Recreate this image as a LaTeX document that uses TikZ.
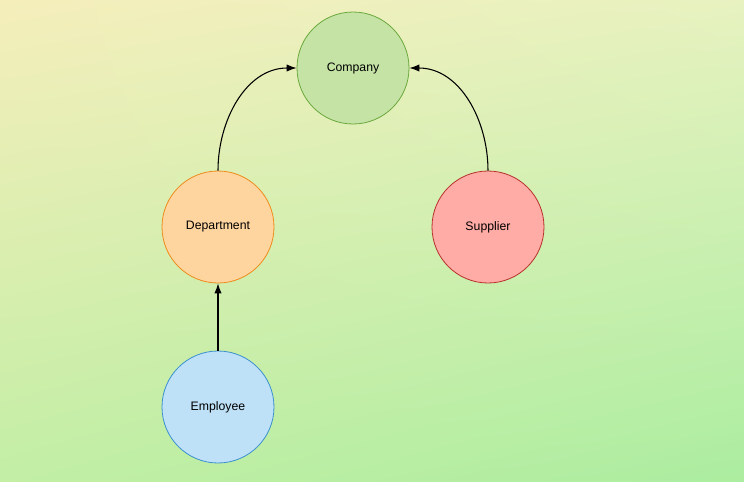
\documentclass[tikz,border=0pt]{standalone}
\usepackage{fontspec}
\setmainfont{Liberation Sans}
\usepackage{tikz}
\usetikzlibrary{arrows.meta, positioning, shadings}
\definecolor{bgtl}{HTML}{F5EEBB}
\definecolor{bgtr}{HTML}{E7F2C0}
\definecolor{bgbl}{HTML}{C2EEA5}
\definecolor{bgbr}{HTML}{ABEDA0}
\definecolor{compfill}{HTML}{C5E3A5}
\definecolor{compline}{HTML}{6BA83E}
\definecolor{deptfill}{HTML}{FFD59F}
\definecolor{deptline}{HTML}{EE8B1C}
\definecolor{suppfill}{HTML}{FFABA6}
\definecolor{suppline}{HTML}{B8322B}
\definecolor{empfill}{HTML}{BEE1F8}
\definecolor{empline}{HTML}{3C90CE}

\tikzset{
  entity/.style={circle, draw, minimum size=84pt, inner sep=0pt,
    line width=0.6pt, font=\fontsize{9.2}{11}\selectfont},
  link/.style={-{Latex[length=7.5pt, width=5.5pt]}, black, line width=0.8pt}
}

\begin{document}
\begin{tikzpicture}[x=0.75pt, y=-0.75pt]
  % background
  \shade[upper left=bgtl, upper right=bgtr, lower left=bgbl, lower right=bgbr]
    (0,0) rectangle (744,482);
  \useasboundingbox (0,0) rectangle (744,482);
  % entities
  \node[entity, fill=compfill, draw=compline] (company) at (353,68) {Company};
  \node[entity, fill=deptfill, draw=deptline] (dept) at (218,227) {Department};
  \node[entity, fill=suppfill, draw=suppline] (supplier) at (488,227) {Supplier};
  \node[entity, fill=empfill, draw=empline] (employee) at (218,407) {Employee};
  % links
  \draw[link] (dept.north) to[out=90, in=180] (company.west);
  \draw[link] (supplier.north) to[out=90, in=0] (company.east);
  \draw[link] (employee.north) -- (dept.south);
\end{tikzpicture}
\end{document}
